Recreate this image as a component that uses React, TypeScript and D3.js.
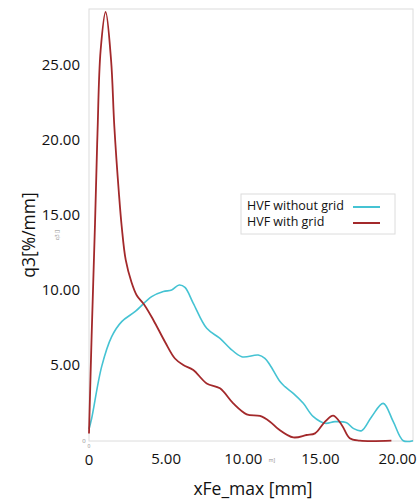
import * as d3 from "d3";

const xTicks = [5, 10, 15, 20];
const yTicks = [5, 10, 15, 20, 25];

// HVF without grid (cyan)
const withoutX = [0, 0.17, 0.82, 1.47, 2.12, 2.98, 4.06, 4.82, 5.36, 5.85, 6.22, 6.76, 7.63, 8.49, 9.14, 9.9, 10.97, 11.4, 11.73, 12.38, 12.7, 13.24, 13.89, 14.54, 15.3, 15.94, 16.7, 17.13, 17.67, 18.32, 19.07, 19.72, 20.37, 21.0];
const withoutY = [0.8, 1.5, 4.96, 6.96, 7.96, 8.62, 9.62, 9.96, 10.07, 10.4, 10.24, 9.18, 7.51, 6.84, 6.18, 5.62, 5.73, 5.51, 5.07, 3.96, 3.62, 3.18, 2.51, 1.62, 1.18, 1.29, 1.22, 0.84, 0.69, 1.62, 2.51, 1.29, 0.02, 0.02];

// HVF with grid (red)
const withX = [0, 0.17, 0.39, 0.55, 0.75, 1.08, 1.43, 1.64, 1.94, 2.12, 2.38, 2.75, 3.1, 3.59, 4.17, 4.93, 5.57, 6.11, 6.76, 7.63, 8.49, 9.35, 10.22, 11.08, 11.73, 12.27, 13.24, 14.1, 14.65, 15.3, 15.83, 16.38, 16.9, 17.56, 19.6];
const withY = [0.5, 7.0, 14.5, 20.5, 26.0, 28.6, 25.4, 21.0, 16.5, 14.3, 12.07, 10.6, 9.7, 9.07, 8.07, 6.6, 5.5, 5.07, 4.73, 3.84, 3.51, 2.51, 1.78, 1.67, 1.29, 0.8, 0.24, 0.4, 0.51, 1.29, 1.69, 1.07, 0.18, 0.02, 0.02];

const cyan = "#45c3d3";
const red = "#a3292b";
const font = "'Open Sans', 'Noto Sans', sans-serif";

export default function App() {
  const width = 420;
  const height = 502;
  const left = 89;
  const right = 413;
  const top = 9;
  const bottom = 441;

  const x = d3.scaleLinear().domain([0, 21]).range([left, right]);
  const y = d3.scaleLinear().domain([0, 28.8]).range([bottom, top]);

  const line = d3
    .line<[number, number]>()
    .x((d) => x(d[0]))
    .y((d) => y(d[1]))
    .curve(d3.curveCatmullRom.alpha(0.5));

  const without = withoutX.map((v, i) => [v, withoutY[i]] as [number, number]);
  const withGrid = withX.map((v, i) => [v, withY[i]] as [number, number]);

  return (
    <svg
      width={width}
      height={height}
      style={{ position: "absolute", left: 0, top: 0, background: "#fff" }}
      fontFamily={font}
    >
      <rect x={left} y={top} width={right - left} height={bottom - top} fill="none" stroke="#dcdcdc" strokeWidth={1} />

      {yTicks.map((t) => (
        <text key={t} x={80} y={y(t)} textAnchor="end" dominantBaseline="middle" fontSize={15} fill="#111">
          {t.toFixed(2)}
        </text>
      ))}
      {xTicks.map((t) => (
        <text key={t} x={x(t)} y={460} textAnchor="middle" dominantBaseline="middle" fontSize={15} fill="#111">
          {t.toFixed(2)}
        </text>
      ))}
      <text x={x(0)} y={461} textAnchor="middle" dominantBaseline="middle" fontSize={15} fill="#111">0</text>

      <text x={84} y={bottom} textAnchor="middle" dominantBaseline="middle" fontSize={6} fill="#888">0</text>
      <text x={x(0)} y={446.5} textAnchor="middle" dominantBaseline="middle" fontSize={5} fill="#888">0</text>
      <text x={272} y={461} textAnchor="middle" dominantBaseline="middle" fontSize={5} fill="#888">m]</text>
      <text transform="translate(58,235) rotate(-90)" textAnchor="middle" dominantBaseline="middle" fontSize={5} fill="#888">q3 []</text>

      <text transform="translate(30,235) rotate(-90)" textAnchor="middle" dominantBaseline="middle" fontSize={17.5} fill="#111">
        q3[%/mm]
      </text>
      <text x={253} y={490} textAnchor="middle" dominantBaseline="middle" fontSize={17.5} fill="#111">
        xFe_max [mm]
      </text>

      <path d={line(without) ?? ""} fill="none" stroke={cyan} strokeWidth={1.6} />
      <path d={line(withGrid) ?? ""} fill="none" stroke={red} strokeWidth={1.8} />

      <rect x={241} y={194} width={154} height={40} fill="#fff" stroke="#dcdcdc" strokeWidth={1} />
      <text x={247} y={207} dominantBaseline="middle" fontSize={12.5} fill="#111">HVF without grid</text>
      <text x={247} y={223} dominantBaseline="middle" fontSize={12.5} fill="#111">HVF with grid</text>
      <line x1={353} x2={380} y1={207} y2={207} stroke={cyan} strokeWidth={2} />
      <line x1={353} x2={380} y1={223} y2={223} stroke={red} strokeWidth={2} />
    </svg>
  );
}
